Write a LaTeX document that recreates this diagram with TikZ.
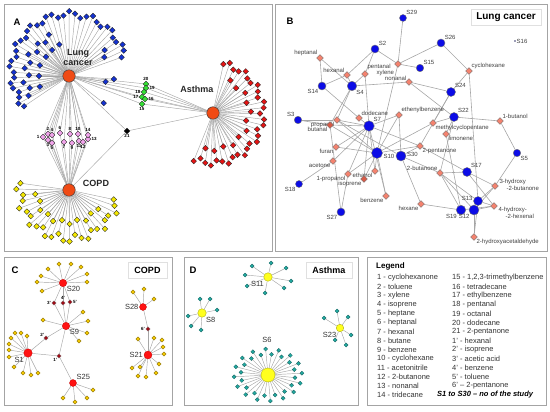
\documentclass[tikz,border=0pt]{standalone}
\usepackage{fontspec}
\setmainfont{Liberation Sans}
\usetikzlibrary{shapes.geometric,calc}

\definecolor{framegray}{HTML}{A4A4A4}
\definecolor{edgegray}{HTML}{A6A6A6}
\definecolor{hubred}{HTML}{F04A14}
\definecolor{lcblue}{HTML}{1432D2}
\definecolor{asred}{HTML}{E41414}
\definecolor{cpyel}{HTML}{F4E800}
\definecolor{pinkd}{HTML}{F2A4EC}
\definecolor{greend}{HTML}{34E034}
\definecolor{studyblue}{HTML}{0C0CE6}
\definecolor{salmon}{HTML}{F4826E}
\definecolor{salmondk}{HTML}{D85A46}
\definecolor{cred}{HTML}{FF1212}
\definecolor{cleafc}{HTML}{F4C800}
\definecolor{cdarkc}{HTML}{A00A14}
\definecolor{dyel}{HTML}{FFFF1E}
\definecolor{tealc}{HTML}{22A8A0}

\pgfdeclarelayer{bg}
\pgfsetlayers{bg,main}

\tikzset{
  panel/.style={draw=framegray, line width=0.9pt},
  tag/.style={font=\bfseries\fontsize{9.5}{10}\selectfont, inner sep=0pt},
  titlebox/.style={draw=black!12, line width=0.9pt, fill=white, inner sep=0pt,
    minimum height=16pt, font=\bfseries\fontsize{9}{10}\selectfont},
  hub/.style={circle, draw=black!75, line width=0.5pt, fill=hubred,
    minimum size=12.5pt, inner sep=0pt},
  hubtext/.style={font=\bfseries\fontsize{9}{9.5}\selectfont, text=black!85,
    align=center, inner sep=0pt},
  dia/.style={diamond, draw=black!85, line width=0.35pt, fill=#1,
    minimum size=5.8pt, inner sep=0pt},
  edge/.style={draw=edgegray, line width=0.45pt},
  num/.style={font=\bfseries\fontsize{4.5}{5}\selectfont, inner sep=0.4pt},
  study/.style={circle, draw=black!55, line width=0.4pt, fill=studyblue,
    minimum size=#1, inner sep=0pt},
  chem/.style={diamond, draw=black!55, line width=0.4pt, fill=salmon,
    minimum size=7pt, inner sep=0pt},
  chemdk/.style={chem, fill=salmondk},
  blab/.style={font=\fontsize{6}{7}\selectfont, text=black!75, inner sep=0.6pt},
  bedge/.style={draw=edgegray, line width=0.6pt},
  chub/.style={circle, draw=red!75!black, line width=0.3pt, fill=cred,
    minimum size=#1, inner sep=0pt},
  cleaf/.style={diamond, draw=black!45!cleafc, line width=0.3pt, fill=cleafc,
    minimum size=4.3pt, inner sep=0pt},
  cdark/.style={diamond, draw=black!60, line width=0.3pt, fill=cdarkc,
    minimum size=4.6pt, inner sep=0pt},
  dhub/.style={circle, draw=black!30!dyel, line width=0.4pt, fill=dyel,
    minimum size=#1, inner sep=0pt},
  dleaf/.style={diamond, draw=black!45!tealc, line width=0.3pt, fill=tealc,
    minimum size=4.2pt, inner sep=0pt},
  slab/.style={font=\fontsize{7.5}{8}\selectfont, text=black!80, inner sep=0.8pt},
  pnum/.style={font=\bfseries\fontsize{4.5}{5}\selectfont, inner sep=0.5pt},
  legrow/.style={font=\fontsize{7.5}{8}\selectfont, text=black!80, anchor=west, inner sep=0pt},
}

\begin{document}
\begin{tikzpicture}[x=1pt,y=-1pt]
\useasboundingbox (0,0) rectangle (550,412);

% frames and panel tags
\draw[panel] (4,4) rectangle (272.5,251);
\draw[panel] (275.5,4) rectangle (547.5,251);
\draw[panel] (4,257) rectangle (172,405);
\draw[panel] (184,257) rectangle (358,405);
\draw[panel] (367,257) rectangle (546,405);
\node[tag] (tagA) at (17,22) {A};
\node[tag] (tagB) at (290,21) {B};
\node[tag] (tagC) at (15,270) {C};
\node[tag] (tagD) at (193,270) {D};

%%% A: diseases and compounds
\node[hub] (lung) at (69,76) {};
\node[hub] (asth) at (213,113) {};
\node[hub] (copd) at (69,190) {};
\node[hubtext] (lungtxt) at (78,57.5) {Lung\\cancer};
\node[hubtext] (asthtxt) at (197,89) {Asthma};
\node[hubtext] (copdtxt) at (96,183) {COPD};

% lung cancer only
\foreach \i in {0,...,36}{
  \pgfmathsetmacro\ang{214-5.4*\i}
  \pgfmathsetmacro\rad{57+5*sin(\ang)+3*sin(97*\i)}
  \node[dia=lcblue] (lo\i) at ($(lung)+(\ang:\rad pt)$) {};
}
\foreach \ang/\rad [count=\i] in {206/45,197/41,188/46,179/40,170/45,161/41,152/46,
    143/40,134/45,125/41,116/46,107/33,36/44,28/40,-4/45,-9/37,-38/44,
    200/31,180/30,160/31,140/30,123/31}
  \node[dia=lcblue] (li\i) at ($(lung)+(\ang:\rad pt)$) {};

% asthma only
\foreach \i in {0,...,29}{
  \pgfmathsetmacro\ang{78-6.55*\i}
  \pgfmathsetmacro\rad{50+3*sin(113*\i)}
  \node[dia=asred] (ao\i) at ($(asth)+(\ang:\rad pt)$) {};
}
\foreach \ang/\rad [count=\i] in {62/37,47/34,32/38,17/35,2/38,-13/34,-28/38,
    -43/35,-58/38,-73/35,-88/38,-102/36}
  \node[dia=asred] (ai\i) at ($(asth)+(\ang:\rad pt)$) {};

% COPD only
\foreach \i in {0,...,25}{
  \pgfmathsetmacro\ang{172+7.04*\i}
  \pgfmathsetmacro\rad{49+4*sin(113*\i)}
  \node[dia=cpyel] (co\i) at ($(copd)+(\ang:\rad pt)$) {};
}
\foreach \ang/\rad [count=\i] in {187/34,201/31,215/35,229/32,243/35,257/31,
    271/34,285/31,299/35,313/32,327/35}
  \node[dia=cpyel] (ci\i) at ($(copd)+(\ang:\rad pt)$) {};

% shared compounds
\foreach \n/\x/\y/\p in {1/43/137/left,2/48/134/above,3/48/140/below,4/52/135/above,
    5/52/143/below,6/60/133/above,7/64/142/below,8/70/134/above,9/72/143/below,
    10/78/134/above,11/79/141/below,12/83/142/below,13/88/139/right,14/88/135/above}
  \node[dia=pinkd, label={[num]\p:\n}] (p\n) at (\x,\y) {};
\foreach \n/\x/\y/\p in {20/146/84/above,19/146/88/right,18/144/92/left,
    17/142/97/left,16/145/99/right,15/142/104/below}
  \node[dia=greend, label={[num]\p:\n}] (g\n) at (\x,\y) {};
\node[dia=black, label={[num]below:21}] (c21) at (127,131) {};

\begin{pgfonlayer}{bg}
  \foreach \i in {0,...,36} \draw[edge] (lung) -- (lo\i);
  \foreach \i in {1,...,22} \draw[edge] (lung) -- (li\i);
  \foreach \i in {0,...,29} \draw[edge] (asth) -- (ao\i);
  \foreach \i in {1,...,12} \draw[edge] (asth) -- (ai\i);
  \foreach \i in {0,...,25} \draw[edge] (copd) -- (co\i);
  \foreach \i in {1,...,11} \draw[edge] (copd) -- (ci\i);
  \foreach \n in {1,...,14} \draw[edge] (lung) -- (p\n) -- (copd);
  \foreach \n in {15,...,20} \draw[edge] (lung) -- (g\n) -- (asth);
  \draw[edge] (lung) -- (c21) -- (asth);
  \draw[edge] (copd) -- (c21);
\end{pgfonlayer}

%%% B: lung cancer studies
\node[titlebox, minimum width=70pt, font=\bfseries\fontsize{10}{11}\selectfont] (bttl) at (506,17) {Lung cancer};

% compounds
\node[chem, label={[blab]above left:heptanal}] (hep) at (320,58) {};
\node[chem, label={[blab]above left:hexanal}] (hex) at (347,75) {};
\node[chem, label={[blab,yshift=2pt]above right:pentanal}] (pen) at (365,74) {};
\node[chem, label={[blab,yshift=-5pt]190:xylene}] (xyl) at (398,64) {};
\node[chem, label={[blab,yshift=-1pt]above left:nonanal}] (non) at (409,82) {};
\node[chem, label={[blab]above right:cyclohexane}] (chx) at (469,71) {};
\node[chem, label={[blab]above right:dodecane}] (dod) at (359,118) {};
\node[chem, label={[blab]above right:ethenylbenzene}] (eth) at (399,115) {};
\node[chem, label={[blab]below left:propanal}] (prl) at (337,120) {};
\node[chemdk, label={[blab]below left:butanal}] (btl) at (330,125) {};
\node[chem, label={[blab]below right:methylcyclopentane}] (mcp) at (433,123) {};
\node[chem, label={[blab]below right:limonene}] (lim) at (446,134) {};
\node[chem, label={[blab]above right:1-butanol}] (bol) at (500,121) {};
\node[chem, label={[blab]below left:furan}] (fur) at (336,147) {};
\node[chem, label={[blab]below right:2-pentanone}] (pnt) at (420,146) {};
\node[chem, label={[blab]below left:acetone}] (ace) at (333,161) {};
\node[chem, label={[blab]below left:1-propanol}] (pol) at (348,174) {};
\node[chem, label={[blab]below left:ethanol}] (etl) at (375,171) {};
\node[chemdk, label={[blab]below left:isoprene}] (iso) at (364,179) {};
\node[chem, label={[blab]above left:2-butanone}] (btn) at (440,173) {};
\node[chem, label={[blab]below left:benzene}] (ben) at (386,196) {};
\node[chem, label={[blab]below left:hexane}] (hxn) at (421,204) {};
\node[chem, label={[blab,align=left,yshift=1.5pt]right:3-hydroxy\\\hspace*{7pt}-2-butanone}] (hbu) at (495,186) {};
\node[chem, label={[blab,align=left,yshift=-7pt]right:4-hydroxy-\\\hspace*{7pt}-2-hexenal}] (hhx) at (494,206) {};
\node[chem, label={[blab]below right:2-hydroxyacetaldehyde}] (hac) at (474,237) {};

% studies
\node[study=7pt, label={[blab]above right:S29}] (s29) at (403,18) {};
\node[study=8pt, label={[blab]above right:S26}] (s26) at (441,43) {};
\node[study=1.4pt, label={[blab]right:S16}] (s16) at (515,41) {};
\node[study=8pt, label={[blab]above right:S2}] (s2) at (375,49) {};
\node[study=7.5pt, label={[blab]above right:S15}] (s15) at (420,68) {};
\node[study=8pt, label={[blab]below left:S14}] (s14) at (322,86) {};
\node[study=9.5pt, label={[blab]below right:S4}] (s4) at (352,86) {};
\node[study=9pt, label={[blab]above right:S24}] (s24) at (451,92) {};
\node[study=9pt, label={[blab]above right:S22}] (s22) at (454,117) {};
\node[study=7.5pt, label={[blab]above left:S3}] (s3) at (298,120) {};
\node[study=10.5pt, label={[blab]above right:S7}] (s7) at (369,126) {};
\node[study=7.5pt, label={[blab]below right:S5}] (s5) at (517,153) {};
\node[study=11pt, label={[blab,yshift=-3pt]right:S10}] (s10) at (377,153) {};
\node[study=10pt, label={[blab,yshift=2pt]right:S30}] (s30) at (401,156) {};
\node[study=9pt, label={[blab]above right:S17}] (s17) at (467,172) {};
\node[study=7pt, label={[blab]below left:S18}] (s18) at (299,184) {};
\node[study=8pt, label={[blab]below left:S27}] (s27) at (341,212) {};
\node[study=9pt, label={[blab,yshift=3pt]left:S13}] (s13) at (478,201) {};
\node[study=9.5pt, label={[blab]below left:S19}] (s19) at (461,210) {};
\node[study=10pt, label={[blab]below left:S12}] (s12) at (474,210) {};

\begin{pgfonlayer}{bg}
\foreach \u/\v in {s29/xyl,s26/xyl,s26/chx,s2/hex,s2/xyl,s2/pen,hep/s14,hep/s4,
    hex/s14,hex/s4,pen/s4,pen/s7,s14/dod,s4/non,s4/prl,s4/btl,xyl/s15,xyl/s10,
    non/s24,non/s22,chx/s24,chx/s13,s24/mcp,s24/pnt,s22/bol,s22/lim,s22/mcp,
    s22/btn,s3/prl,s3/btl,s7/dod,s7/eth,s7/prl,s7/btl,s7/fur,s7/ace,s7/pol,
    s7/iso,s7/etl,s7/pnt,s7/ben,s10/fur,s10/btl,s10/prl,s10/pnt,s10/pol,
    s10/etl,s10/iso,s10/ben,s10/eth,s10/mcp,s30/eth,s30/pnt,s30/hxn,s30/btn,
    s30/prl,s18/ace,s27/btl,s27/pol,btn/s17,btn/s13,btn/s19,btn/s12,s17/pnt,
    s17/hbu,s17/hhx,s13/hbu,s13/hhx,s12/hbu,s12/hhx,s12/hac,s13/hac,s19/hxn,
    s19/hhx,s19/lim,s5/bol,s5/hbu}
  \draw[bedge] (\u) -- (\v);
\end{pgfonlayer}

%%% C: COPD studies
\node[titlebox, minimum width=39pt] (cttl) at (147.5,270) {COPD};
\node[chub=7.5pt, label={[slab]below right:S20}] (s20) at (63,283) {};
\node[chub=7.5pt, label={[slab]below right:S9}] (s9) at (66,326) {};
\node[chub=8.5pt, label={[slab]below left:S1}] (s1) at (28,353) {};
\node[chub=7pt, label={[slab]above right:S25}] (s25) at (73,383) {};
\node[chub=7pt, label={[slab]left:S28}] (s28) at (143,307) {};
\node[chub=8pt, label={[slab]left:S21}] (s21) at (148,355) {};

\foreach \x/\y [count=\i] in {41/276,37/282,42/291,48/269,59/264,71/264,81/267,87/274,87/282}
  \node[cleaf] (ua\i) at (\x,\y) {};
\foreach \x/\y [count=\i] in {43/320,83/312,88/321,87/333,79/341}
  \node[cleaf] (ub\i) at (\x,\y) {};
\foreach \x/\y [count=\i] in {15/333,21/333,27/336,11/338,9/344,9/350,9/357,14/367,23/373,31/375,38/373}
  \node[cleaf] (uc\i) at (\x,\y) {};
\foreach \x/\y [count=\i] in {63/398,75/402,87/398,93/390}
  \node[cleaf] (ud\i) at (\x,\y) {};
\foreach \x/\y [count=\i] in {133/292,144/289,154/299}
  \node[cleaf] (ue\i) at (\x,\y) {};
\foreach \x/\y [count=\i] in {138/339,154/338,162/340,163/347,164/354,159/364,156/373,146/377,138/376,132/368,140/367}
  \node[cleaf] (uf\i) at (\x,\y) {};

\node[cdark, label={[pnum]left:3’}] (q3) at (54,303) {};
\node[cdark, label={[pnum]above:4’}] (q4) at (63,303) {};
\node[cdark, label={[pnum]right:5’}] (q5) at (70,302) {};
\node[cdark, label={[pnum]above left:2’}] (q2) at (46,338) {};
\node[cdark, label={[pnum]below left:1’}] (q1) at (59,356) {};
\node[cdark, label={[pnum]left:6’}] (q6) at (148,329) {};

\begin{pgfonlayer}{bg}
  \foreach \i in {1,...,9} \draw[edge] (s20) -- (ua\i);
  \foreach \i in {1,...,5} \draw[edge] (s9) -- (ub\i);
  \foreach \i in {1,...,11} \draw[edge] (s1) -- (uc\i);
  \foreach \i in {1,...,4} \draw[edge] (s25) -- (ud\i);
  \foreach \i in {1,...,3} \draw[edge] (s28) -- (ue\i);
  \foreach \i in {1,...,11} \draw[edge] (s21) -- (uf\i);
  \foreach \u/\v in {s20/q3,s20/q4,s20/q5,q3/s9,q4/s9,q5/s9,s1/q2,q2/s9,
      s1/q1,s9/q1,q1/s25,s28/q6,q6/s21}
    \draw[edge] (\u) -- (\v);
\end{pgfonlayer}

%%% D: asthma studies
\node[titlebox, minimum width=46pt] (dttl) at (329,270) {Asthma};
\node[dhub=8.5pt, label={[slab]below left:S11}] (s11) at (268,277) {};
\node[dhub=8.5pt, label={[slab]below right:S8}] (s8) at (202,313) {};
\node[dhub=7.5pt, label={[slab]below left:S23}] (s23) at (340,328) {};
\node[dhub=14pt] (s6) at (268,375) {};
\node[slab] (s6txt) at (267,340) {S6};

\foreach \x/\y [count=\i] in {252/266,271/263,286/268,291/281,284/288,265/293,247/286,245/275}
  \node[dleaf] (ta\i) at (\x,\y) {};
\foreach \x/\y [count=\i] in {200/299,210/299,217/310,188/316,191/326,201/330}
  \node[dleaf] (tb\i) at (\x,\y) {};
\foreach \x/\y [count=\i] in {337/311,348/317,351/335,346/345,335/340,324/318}
  \node[dleaf] (tc\i) at (\x,\y) {};
\foreach \i in {0,...,31}{
  \pgfmathsetmacro\ang{11.25*\i+4}
  \pgfmathsetmacro\k{1-0.2*mod(\i,2)}
  \pgfmathsetmacro\dx{34*\k*cos(\ang)}
  \pgfmathsetmacro\dy{26*\k*sin(\ang)}
  \node[dleaf] (td\i) at ($(s6)+(\dx pt,\dy pt)$) {};
}

\begin{pgfonlayer}{bg}
  \foreach \i in {1,...,8} \draw[edge] (s11) -- (ta\i);
  \foreach \i in {1,...,6} \draw[edge] (s8) -- (tb\i);
  \foreach \i in {1,...,6} \draw[edge] (s23) -- (tc\i);
  \foreach \i in {0,...,31} \draw[edge] (s6) -- (td\i);
\end{pgfonlayer}

%%% legend
\node[font=\bfseries\fontsize{8}{9}\selectfont, anchor=west, inner sep=0pt] (legtitle) at (376,266) {Legend};
\foreach \l/\r [count=\i] in {1 - cyclohexanone/{15 - 1,2,3-trimethylbenzene},
    2 - toluene/16 - tetradecane, 3 - xylene/17 - ethylbenzene,
    4 - isoprene/18 - pentanal, 5 - heptane/19 - octanal,
    6 - heptanal/20 - dodecane, 7 - hexanal/21 - 2-pentanone,
    8 - butane/1’ - hexanal, 9 - benzene/2’ - isoprene,
    10 - cyclohexane/3’ - acetic acid, 11 - acetonitrile/4’ - benzene,
    12 - 2-butanone/5’ - toluene, 13 - nonanal/6’ – 2-pentanone}{
  \node[legrow] (lgl\i) at (377,{269+9*\i}) {\l};
  \node[legrow] (lgr\i) at (452,{269+9*\i}) {\r};
}
\node[legrow] (lgl14) at (377,395) {14 - tridecane};
\node[legrow, font=\bfseries\itshape\fontsize{7.5}{8}\selectfont, text=black] (lgnote) at (437,395) {S1 to S30 – no of the study};
\end{tikzpicture}
\end{document}
